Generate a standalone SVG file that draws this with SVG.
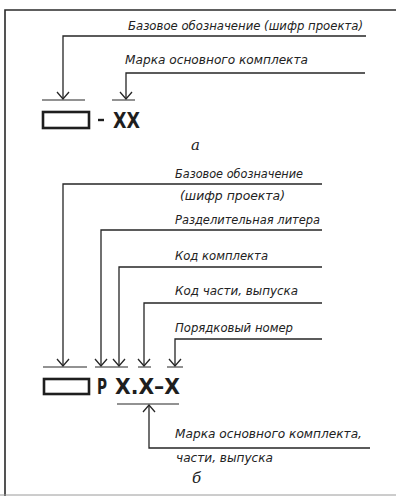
<svg xmlns="http://www.w3.org/2000/svg" width="396" height="496" viewBox="0 0 396 496">
  <style>
    .frame { fill: none; stroke: #2a2a2a; stroke-width: 1.6; }
    .lead { fill: none; stroke: #262626; stroke-width: 1.3; }
    .tick { fill: none; stroke: #262626; stroke-width: 1.2; }
    .box { fill: none; stroke: #1e1e1e; stroke-width: 2.6; }
    .lbl { font-family: "DejaVu Sans", "Liberation Sans", sans-serif; font-style: italic; font-size: 12px; fill: #222; }
    .code { font-family: "DejaVu Sans Condensed", "DejaVu Sans", sans-serif; font-weight: bold; font-size: 21px; fill: #1e1e1e; }
    .cap { font-family: "DejaVu Serif", "Liberation Serif", serif; font-style: italic; font-size: 15px; fill: #222; }
  </style>
  <defs>
    <marker id="vhead" viewBox="-8 -7 9 14" refX="0" refY="0" markerWidth="9" markerHeight="14" markerUnits="userSpaceOnUse" orient="auto">
      <path d="M-7,-6 L0,0 L-7,6" fill="none" stroke="#262626" stroke-width="1.3"/>
    </marker>
  </defs>

  <rect width="396" height="496" fill="#fff"/>

  <!-- sheet frame -->
  <g id="frame">
    <path class="frame" d="M5,496 V10 H396"/>
    <path d="M0,495 H396" stroke="#9a9a9a" stroke-width="1" fill="none"/>
  </g>

  <!-- leader lines -->
  <g id="connectors">
    <!-- variant a -->
    <path class="lead" d="M366,36 H63 V99" marker-end="url(#vhead)"/>
    <path class="lead" d="M365,73 H126 V99" marker-end="url(#vhead)"/>
    <path class="tick" d="M42,100 H85 M112,100 H135"/>
    <!-- variant b -->
    <path class="lead" d="M322,184 H63 V366" marker-end="url(#vhead)"/>
    <path class="lead" d="M322,230 H101 V366" marker-end="url(#vhead)"/>
    <path class="lead" d="M322,267 H119 V366" marker-end="url(#vhead)"/>
    <path class="lead" d="M322,303 H144 V366" marker-end="url(#vhead)"/>
    <path class="lead" d="M322,339 H175 V366" marker-end="url(#vhead)"/>
    <path class="tick" d="M43,367 H87 M95,367 H128 M138,367 H151 M167,367 H183"/>
    <path class="tick" d="M117,404 H179"/>
    <path class="lead" d="M370,448 H149 V405" marker-end="url(#vhead)"/>
  </g>

  <!-- variant a -->
  <g id="a-base-label">
    <text class="lbl" x="128" y="30" textLength="235" lengthAdjust="spacingAndGlyphs">Базовое обозначение (шифр проекта)</text>
  </g>
  <g id="a-mark-label">
    <text class="lbl" x="125" y="64" textLength="183" lengthAdjust="spacingAndGlyphs">Марка основного комплекта</text>
  </g>
  <g id="a-code">
    <rect class="box" x="43" y="112" width="46" height="16"/>
    <path d="M98,120 H104" stroke="#1e1e1e" stroke-width="2.4"/>
    <text class="code" x="113" y="128" textLength="27" lengthAdjust="spacingAndGlyphs">ХХ</text>
  </g>
  <g id="a-caption">
    <text class="cap" x="191" y="150">а</text>
  </g>

  <!-- variant b -->
  <g id="b-base-label">
    <text class="lbl" x="175" y="178" textLength="128" lengthAdjust="spacingAndGlyphs">Базовое обозначение</text>
    <text class="lbl" x="180" y="200" textLength="105" lengthAdjust="spacingAndGlyphs">(шифр проекта)</text>
  </g>
  <g id="b-letter-label">
    <text class="lbl" x="175" y="224" textLength="145" lengthAdjust="spacingAndGlyphs">Разделительная литера</text>
  </g>
  <g id="b-set-label">
    <text class="lbl" x="175" y="260" textLength="93" lengthAdjust="spacingAndGlyphs">Код комплекта</text>
  </g>
  <g id="b-part-label">
    <text class="lbl" x="175" y="295" textLength="123" lengthAdjust="spacingAndGlyphs">Код части, выпуска</text>
  </g>
  <g id="b-number-label">
    <text class="lbl" x="175" y="332" textLength="118" lengthAdjust="spacingAndGlyphs">Порядковый номер</text>
  </g>
  <g id="b-code">
    <rect class="box" x="44" y="379" width="45" height="15"/>
    <text class="code" x="97" y="394" textLength="10" lengthAdjust="spacingAndGlyphs">Р</text>
    <text class="code" x="115" y="394" textLength="65" lengthAdjust="spacingAndGlyphs">Х.Х–Х</text>
  </g>
  <g id="b-mark-label">
    <text class="lbl" x="175" y="438" textLength="187" lengthAdjust="spacingAndGlyphs">Марка основного комплекта,</text>
    <text class="lbl" x="176" y="462" textLength="97" lengthAdjust="spacingAndGlyphs">части, выпуска</text>
  </g>
  <g id="b-caption">
    <text class="cap" x="192" y="483">б</text>
  </g>
</svg>
